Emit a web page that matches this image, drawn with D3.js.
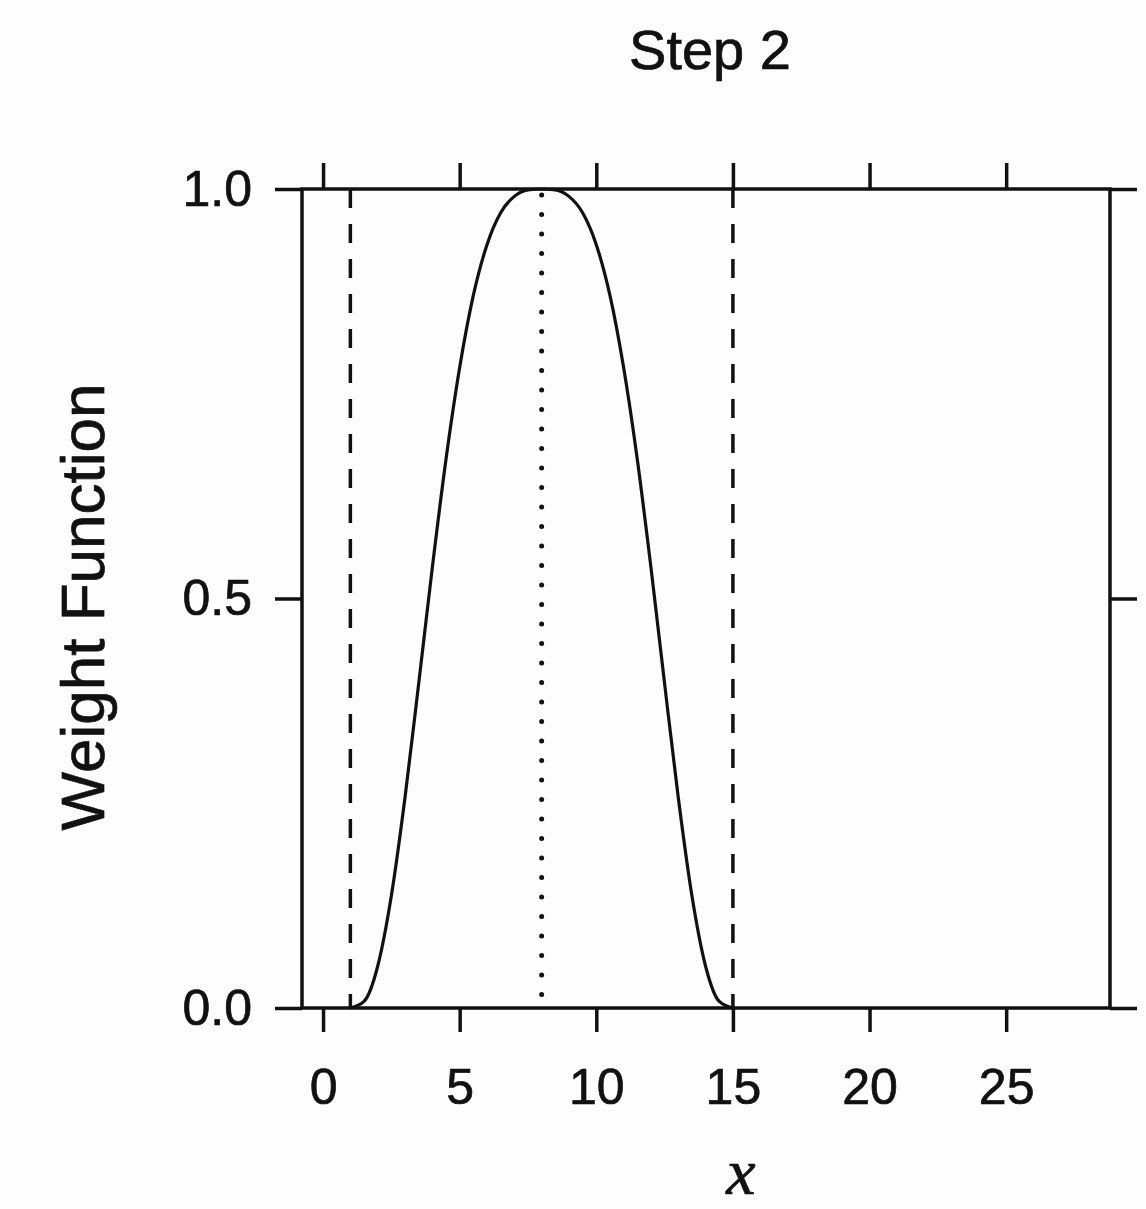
<!DOCTYPE html>
<html>
<head>
<meta charset="utf-8">
<script src="https://cdn.jsdelivr.net/npm/d3@7/dist/d3.min.js"></script>
<style>
  html, body { margin: 0; padding: 0; background: #fdfdfd; }
  svg { display: block; }
  text { font-family: "Liberation Sans", Arial, Helvetica, sans-serif; fill: #111; stroke: #111; stroke-width: 0.7px; }
</style>
</head>
<body>
<svg id="chart" width="1146" height="1209"></svg>
<script>
// ---- data ----
const xValues = [1, 1.5, 2, 2.5, 3, 3.5, 4, 4.5, 5, 5.5, 6, 6.5, 7, 7.5, 8,
                 8.5, 9, 9.5, 10, 10.5, 11, 11.5, 12, 12.5, 13, 13.5, 14, 14.5, 15];
const weightValues = [0, 0.008, 0.051, 0.137, 0.257, 0.396, 0.538, 0.670, 0.782, 0.870, 0.932, 0.971, 0.991, 0.999, 1.000,
                      0.999, 0.991, 0.971, 0.932, 0.870, 0.782, 0.670, 0.538, 0.396, 0.257, 0.137, 0.051, 0.008, 0];
const dashedAt = [1, 15];
const dottedAt = [8];
const xTicks = [0, 5, 10, 15, 20, 25];
const yTicks = [0, 0.5, 1.0];
const titleText = "Step 2";
const xLabel = "x";
const yLabel = "Weight Function";

(function () {
  // ---- layout ----
  const svg = d3.select("#chart");
  const pL = 302, pR = 1110, pT = 189, pB = 1008;
  const x = d3.scaleLinear().domain([-0.77, 28.8]).range([pL, pR]);
  const y = d3.scaleLinear().domain([0, 1]).range([pB, pT]);
  const ink = "#111";

  const points = xValues.map((v, i) => [v, weightValues[i]]);

  // reference lines
  svg.selectAll("line.dashed").data(dashedAt).enter().append("line")
    .attr("class", "dashed")
    .attr("x1", d => x(d)).attr("x2", d => x(d))
    .attr("y1", y(1)).attr("y2", y(0))
    .attr("stroke", ink).attr("stroke-width", 3.5)
    .attr("stroke-dasharray", "19,16");

  svg.selectAll("line.dotted").data(dottedAt).enter().append("line")
    .attr("class", "dotted")
    .attr("x1", d => x(d)).attr("x2", d => x(d))
    .attr("y1", y(1) + 6).attr("y2", y(0) - 6)
    .attr("stroke", ink).attr("stroke-width", 5)
    .attr("stroke-linecap", "round")
    .attr("stroke-dasharray", "0,19.5");

  // curve
  svg.append("path")
    .datum(points)
    .attr("fill", "none")
    .attr("stroke", ink)
    .attr("stroke-width", 3.2)
    .attr("d", d3.line().x(d => x(d[0])).y(d => y(d[1])).curve(d3.curveMonotoneX));

  // axes
  function styleAxis(g) {
    g.select(".domain").remove();
    g.selectAll(".tick line").attr("stroke", ink).attr("stroke-width", 3.5);
    g.selectAll(".tick text").style("font-size", "50px").attr("fill", ink)
      .style("font-family", '"Liberation Sans", Arial, Helvetica, sans-serif');
  }
  svg.append("g").attr("transform", `translate(0,${pB})`)
    .call(d3.axisBottom(x).tickValues(xTicks).tickSize(24).tickPadding(36).tickFormat(d3.format("d")))
    .call(styleAxis);
  svg.append("g").attr("transform", `translate(0,${pT})`)
    .call(d3.axisTop(x).tickValues(xTicks).tickSize(26).tickFormat(""))
    .call(styleAxis);
  svg.append("g").attr("transform", `translate(${pL},0)`)
    .call(d3.axisLeft(y).tickValues(yTicks).tickSize(27).tickPadding(23).tickFormat(d3.format(".1f")))
    .call(styleAxis);
  svg.append("g").attr("transform", `translate(${pR},0)`)
    .call(d3.axisRight(y).tickValues(yTicks).tickSize(27).tickFormat(""))
    .call(styleAxis);

  // frame
  svg.append("rect")
    .attr("x", pL).attr("y", pT)
    .attr("width", pR - pL).attr("height", pB - pT)
    .attr("fill", "none").attr("stroke", ink).attr("stroke-width", 3.5);

  // title and labels
  svg.append("text")
    .attr("x", 710).attr("y", 69)
    .attr("text-anchor", "middle")
    .style("font-size", "56px")
    .text(titleText);

  svg.append("text")
    .attr("transform", "translate(104,607) rotate(-90)")
    .attr("text-anchor", "middle")
    .style("font-size", "62px")
    .text(yLabel);

  svg.append("text")
    .attr("x", 741).attr("y", 1194)
    .attr("text-anchor", "middle")
    .style("font-family", '"Liberation Serif", "DejaVu Serif", serif')
    .style("font-style", "italic")
    .style("font-size", "66px")
    .text(xLabel);
})();
</script>
</body>
</html>
